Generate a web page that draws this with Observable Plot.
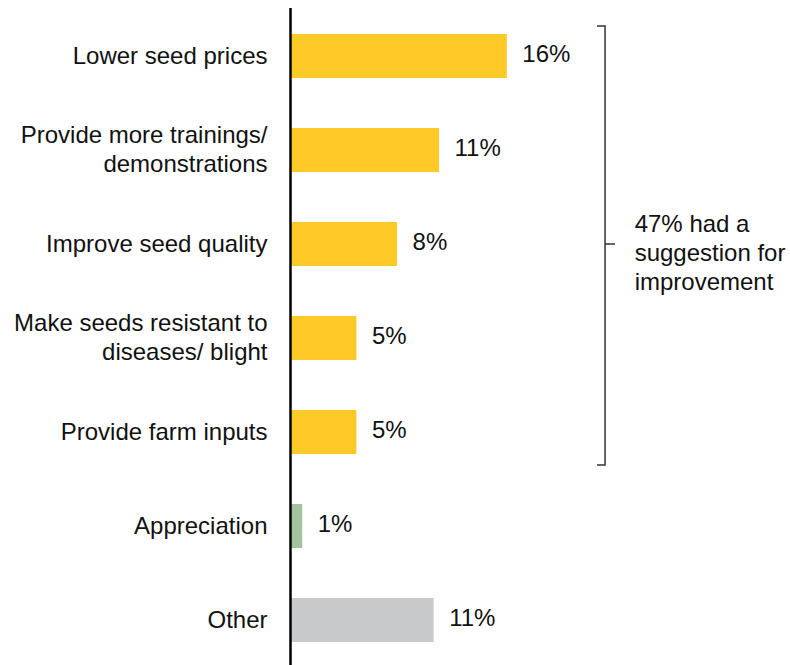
<!DOCTYPE html>
<html>
<head>
<meta charset="utf-8">
<script src="https://cdn.jsdelivr.net/npm/d3@7"></script>
<script src="https://cdn.jsdelivr.net/npm/@observablehq/plot@0.6"></script>
<style>
  html, body { margin: 0; padding: 0; background: #fff; }
  #chart svg { display: block; }
</style>
</head>
<body>
<div id="chart"></div>
<script>
const categories = [
  "Lower seed prices",
  "Provide more trainings/ demonstrations",
  "Improve seed quality",
  "Make seeds resistant to diseases/ blight",
  "Provide farm inputs",
  "Appreciation",
  "Other"
];
const tickLabels = [
  "Lower seed prices",
  "Provide more trainings/\ndemonstrations",
  "Improve seed quality",
  "Make seeds resistant to\ndiseases/ blight",
  "Provide farm inputs",
  "Appreciation",
  "Other"
];
const values = [16.0, 11.0, 7.9, 4.9, 4.9, 0.9, 10.6];
const valueLabels = ["16%", "11%", "8%", "5%", "5%", "1%", "11%"];
const groups = ["Suggestion", "Suggestion", "Suggestion", "Suggestion", "Suggestion", "Appreciation", "Other"];
const groupNames = ["Suggestion", "Appreciation", "Other"];
const groupColors = ["#FFCA28", "#A3C39F", "#C8C9CB"];
const bracketNote = "47% had a\nsuggestion for\nimprovement";
const bracketFirst = categories[0];
const bracketLast = categories[4];
const bracketMid = categories[2];

const data = categories.map((c, i) => ({
  category: c, tick: tickLabels[i], value: values[i], label: valueLabels[i], group: groups[i]
}));
const tickOf = new Map(categories.map((c, i) => [c, tickLabels[i]]));

const font = "'Liberation Sans', Arial, Helvetica, sans-serif";

const bracketX = 23.25;
const noteX = 25.4;
const noteData = [{ note: bracketNote, x: noteX, category: bracketMid }];

const chart = Plot.plot({
  width: 790,
  height: 665,
  marginLeft: 290,
  marginRight: 0,
  marginTop: 33,
  marginBottom: 22,
  style: { fontFamily: font, fontSize: "24px", color: "#111", background: "#fff" },
  x: { domain: [0, 36.9], axis: null },
  y: { domain: categories, paddingInner: 0.528, paddingOuter: 0, label: null },
  color: { domain: groupNames, range: groupColors },
  marks: [
    Plot.barX(data, { x: "value", y: "category", fill: "group" }),
    Plot.text(data, {
      x: "value", y: "category", text: "label", textAnchor: "start", dx: 15, dy: -2,
      fontSize: 24, fill: "#111"
    }),
    Plot.axisY({
      tickSize: 0, tickPadding: 23, fontSize: 24, lineHeight: 1.21, dy: -2,
      tickFormat: d => tickOf.get(d), label: null, fill: "#111"
    }),
    Plot.ruleX([0], { stroke: "#000", strokeWidth: 2.5, insetTop: -25, insetBottom: -22 }),
    (index, scales) => {
      const y = scales.y, x = scales.x;
      const bw = y.bandwidth ? y.bandwidth() : 0;
      const top = y(bracketFirst) - 8;
      const bottom = y(bracketLast) + bw + 11;
      const mid = y(bracketMid) + bw / 2;
      const bx = x(bracketX);
      const path = `M${bx - 8},${top}H${bx}V${bottom}H${bx - 8}M${bx},${mid}H${bx + 10}`;
      return d3.create("svg:path")
        .attr("d", path)
        .attr("fill", "none")
        .attr("stroke", "#333")
        .attr("stroke-width", 1.5)
        .node();
    },
    Plot.text(noteData, {
      x: "x", y: "category", text: "note", textAnchor: "start",
      lineAnchor: "middle", lineHeight: 1.21, dy: 7, fontSize: 24, fill: "#111"
    })
  ]
});

document.getElementById("chart").appendChild(chart);
</script>
</body>
</html>
